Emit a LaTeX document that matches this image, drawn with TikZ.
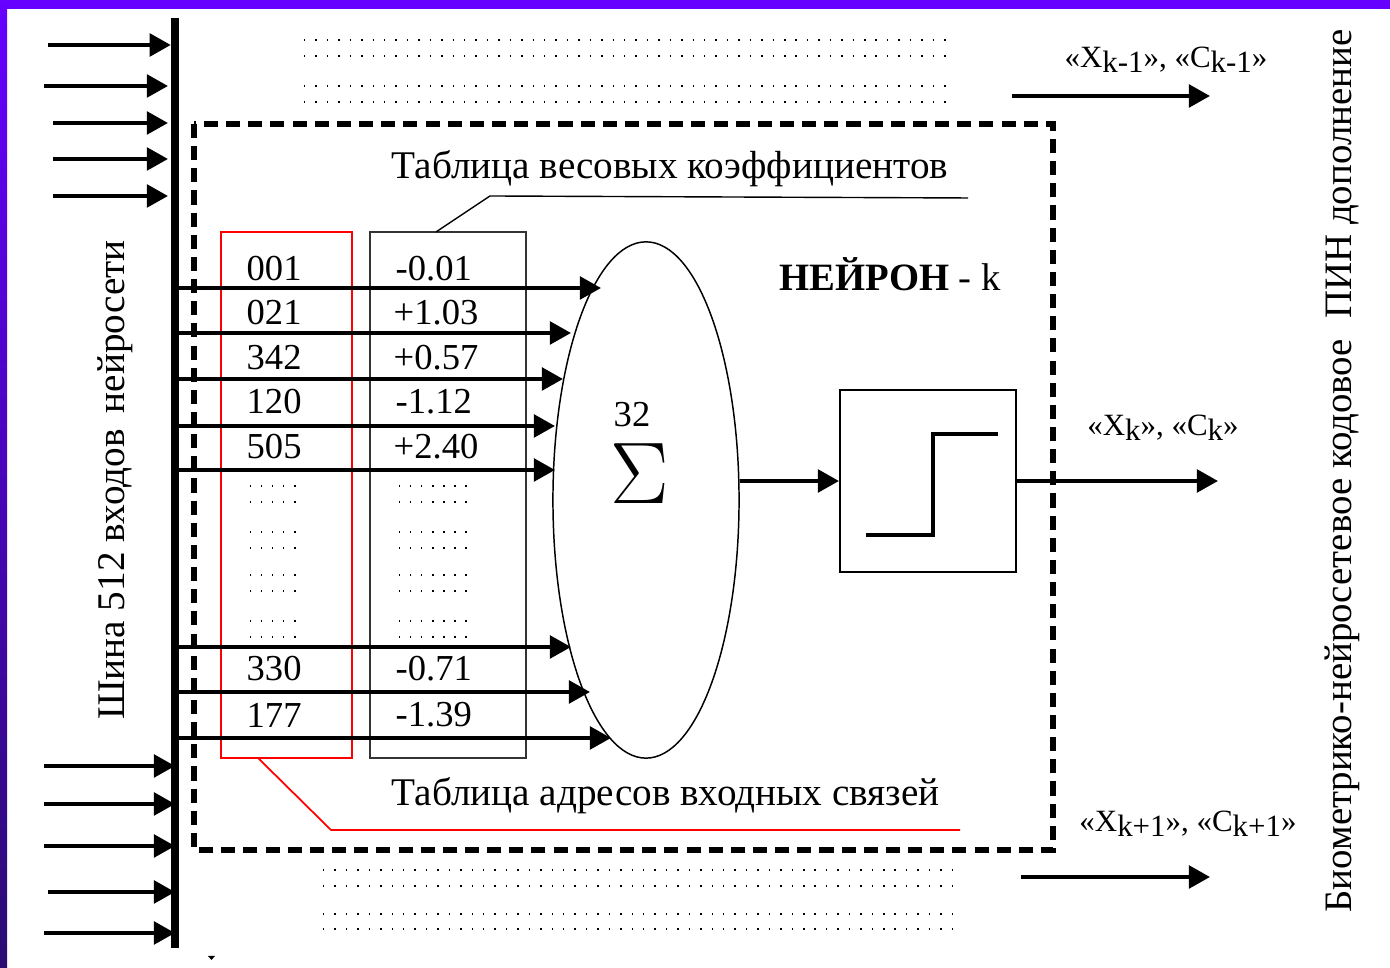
\documentclass[tikz,border=0pt]{standalone}
\usepackage{fontspec}
\setmainfont{Liberation Serif}
\usetikzlibrary{arrows.meta}
\usetikzlibrary{shapes.geometric}

\definecolor{framepurple}{HTML}{6600FF}
\definecolor{framedark}{HTML}{2A0C72}
\newcommand{\subidx}[1]{\raisebox{-0.35ex}{#1}}
\tikzset{
    bigarrow/.style = {line width = 1.15pt, -{Triangle[length = 6pt, width = 6.4pt]}},
    sheet/.style = {font = \fontsize{10.4}{12}\selectfont, inner sep = 0pt},
    outname/.style = {font = \fontsize{8.8}{11}\selectfont, inner sep = 0pt},
    title/.style = {font = \fontsize{11.15}{13}\selectfont, inner sep = 0pt},
    dotrow/.style = {line width = 0.42pt, dash pattern = on 0.42pt off 2.83pt},
    celldots/.style = {line width = 0.42pt, dash pattern = on 0.42pt off 2.71pt},
    tablebox/.style = {draw, line width = 0.55pt, minimum height = 5.26cm, inner sep = 0pt}
}

\begin{document}
\begin{tikzpicture}[x = 0.01cm, y = -0.01cm]
    \useasboundingbox (0,0) rectangle (1390,968);
    % purple frame, top and left only
    \fill [framepurple] (0,0) rectangle (1390,9);
    \shade [top color = framepurple, bottom color = framedark] (0,0) rectangle (7,968);

    % the bus on the left
    \coordinate (bustop) at (175,18);
    \coordinate (busbot) at (175,948);
    \draw [line width = 2.2pt] (bustop) -- (busbot);
    \node [title, rotate = 90] (busname) at (115,480) {Шина 512 входов\, нейросети};

    % upper inputs
    \coordinate (upA) at (48,45);
    \coordinate (upB) at (44,86);
    \coordinate (upC) at (53,123);
    \coordinate (upD) at (53,159);
    \coordinate (upE) at (53,196);
    \draw [bigarrow, shorten > = 1.2pt] (upA) -- (upA -| bustop);
    \draw [bigarrow, shorten > = 2pt] (upB) -- (upB -| bustop);
    \draw [bigarrow, shorten > = 2pt] (upC) -- (upC -| bustop);
    \draw [bigarrow, shorten > = 2pt] (upD) -- (upD -| bustop);
    \draw [bigarrow, shorten > = 2pt] (upE) -- (upE -| bustop);
    % lower inputs
    \coordinate (lowA) at (44,766);
    \coordinate (lowB) at (44,804);
    \coordinate (lowC) at (44,846);
    \coordinate (lowD) at (48,892);
    \coordinate (lowE) at (44,933);
    \draw [bigarrow] (lowA) -- (lowA -| bustop);
    \draw [bigarrow] (lowB) -- (lowB -| bustop);
    \draw [bigarrow] (lowC) -- (lowC -| bustop);
    \draw [bigarrow] (lowD) -- (lowD -| bustop);
    \draw [bigarrow] (lowE) -- (lowE -| bustop);
    \fill (208,956) -- (215,956) -- (211.5,960) -- cycle;

    % the neuron frame
    \draw [line width = 1.5pt, dash pattern = on 4pt off 2.3pt]
        (194,124) rectangle (1053,850);
    \node [inner sep = 0pt, anchor = west, font = \fontsize{11}{13}\selectfont] (neuronname) at (779,274) {\textbf{НЕЙРОН} - k};

    % two tables
    \node [tablebox, draw = red, minimum width = 1.31cm] (addr) at (286.5,495) {};
    \node [tablebox, draw = black!80, minimum width = 1.56cm] (wght) at (448,495) {};

    \node [sheet, anchor = west] (addrA) at (246,269) {001};
    \node [sheet, anchor = west] (addrB) at (246,313) {021};
    \node [sheet, anchor = west] (addrC) at (246,358) {342};
    \node [sheet, anchor = west] (addrD) at (246,402) {120};
    \node [sheet, anchor = west] (addrE) at (246,447) {505};
    \node [sheet, anchor = west] (addrF) at (246,669) {330};
    \node [sheet, anchor = west] (addrG) at (246,715) {177};
    \node [sheet, anchor = west] (wghtA) at (395,269) {-0.01};
    \node [sheet, anchor = west] (wghtB) at (393,313) {+1.03};
    \node [sheet, anchor = west] (wghtC) at (393,358) {+0.57};
    \node [sheet, anchor = west] (wghtD) at (395,402) {-1.12};
    \node [sheet, anchor = west] (wghtE) at (393,447) {+2.40};
    \node [sheet, anchor = west] (wghtF) at (395,669) {-0.71};
    \node [sheet, anchor = west] (wghtG) at (395,715) {-1.39};

    % skipped rows
    \draw [celldots] (250,486) -- (297,486) (250,502) -- (297,502)
        (250,532) -- (297,532) (250,548) -- (297,548)
        (250,575) -- (297,575) (250,591) -- (297,591)
        (250,621) -- (297,621) (250,637) -- (297,637);
    \draw [celldots] (399,486) -- (467,486) (399,502) -- (467,502)
        (399,532) -- (467,532) (399,548) -- (467,548)
        (399,575) -- (467,575) (399,591) -- (467,591)
        (399,621) -- (467,621) (399,637) -- (467,637);
    % skipped neurons
    \draw [dotrow] (304,40) -- (946,40) (304,56) -- (946,56)
        (304,86) -- (946,86) (304,102) -- (946,102);
    \draw [dotrow] (323,870) -- (953,870) (323,886) -- (953,886)
        (323,914) -- (953,914) (323,929) -- (953,929);

    % table captions
    \node [title, anchor = west] (wghtname) at (391,169) {Таблица весовых коэффициентов};
    \node [title, anchor = west] (addrname) at (391,796) {Таблица адресов входных связей};
    \coordinate (wghttail) at (436,232);
    \coordinate (wghtbend) at (490,196);
    \coordinate (wghtend) at (968,198);
    \draw [line width = 0.4pt] (wghttail) -- (wghtbend) -- (wghtend);
    \coordinate (addrtail) at (258,758);
    \coordinate (addrbend) at (331,830);
    \coordinate (addrend) at (960,830);
    \draw [red, line width = 0.5pt] (addrtail) -- (addrbend) -- (addrend);

    % adder
    \node [ellipse, draw, line width = 0.42pt, inner sep = 0pt, minimum width = 1.86cm, minimum height = 5.16cm] (neuron) at (646,500) {};
    \node [sheet] (count) at (632,415) {32};
    \node [inner sep = 0pt, font = \fontsize{23}{27}\selectfont] (sigma) at (640,474) {$\Sigma$};

    % weighted inputs
    \coordinate (inA) at (601,288);
    \coordinate (inB) at (571,333);
    \coordinate (inC) at (563,379);
    \coordinate (inD) at (555,426);
    \coordinate (inE) at (555,470);
    \coordinate (inF) at (571,647);
    \coordinate (inG) at (590,692);
    \coordinate (inH) at (611,738);
    \draw [bigarrow] (inA -| bustop) -- (inA);
    \draw [bigarrow] (inB -| bustop) -- (inB);
    \draw [bigarrow] (inC -| bustop) -- (inC);
    \draw [bigarrow] (inD -| bustop) -- (inD);
    \draw [bigarrow] (inE -| bustop) -- (inE);
    \draw [bigarrow] (inF -| bustop) -- (inF);
    \draw [bigarrow] (inG -| bustop) -- (inG);
    \draw [bigarrow] (inH -| bustop) -- (inH);

    % threshold
    \node [draw, line width = 0.55pt, minimum width = 1.76cm, minimum height = 1.82cm, inner sep = 0pt] (stepbox) at (928,481) {};
    \draw [line width = 1pt] (866,535) -- (933,535) -- (933,434) -- (998,434);
    \draw [bigarrow] (stepbox.west -| neuron.east) -- (stepbox.west);

    % outputs
    \coordinate (outA) at (1012,96);
    \coordinate (outAend) at (1210,96);
    \coordinate (outB) at (1218,481);
    \coordinate (outC) at (1021,877);
    \coordinate (outCend) at (1210,877);
    \draw [bigarrow] (outA) -- (outAend);
    \draw [bigarrow] (stepbox.east) -- (outB);
    \draw [bigarrow] (outC) -- (outCend);
    \node [outname] (outAname) at (1166,60) {«X\subidx{k-1}», «C\subidx{k-1}»};
    \node [outname] (outBname) at (1163,428) {«X\subidx{k}», «C\subidx{k}»};
    \node [outname] (outCname) at (1188,824) {«X\subidx{k+1}», «C\subidx{k+1}»};
    \node [title, rotate = 90, font = \fontsize{11.05}{13}\selectfont] (codename) at (1342,471) {Биометрико-нейросетевое кодовое\; ПИН дополнение};
\end{tikzpicture}
\end{document}
